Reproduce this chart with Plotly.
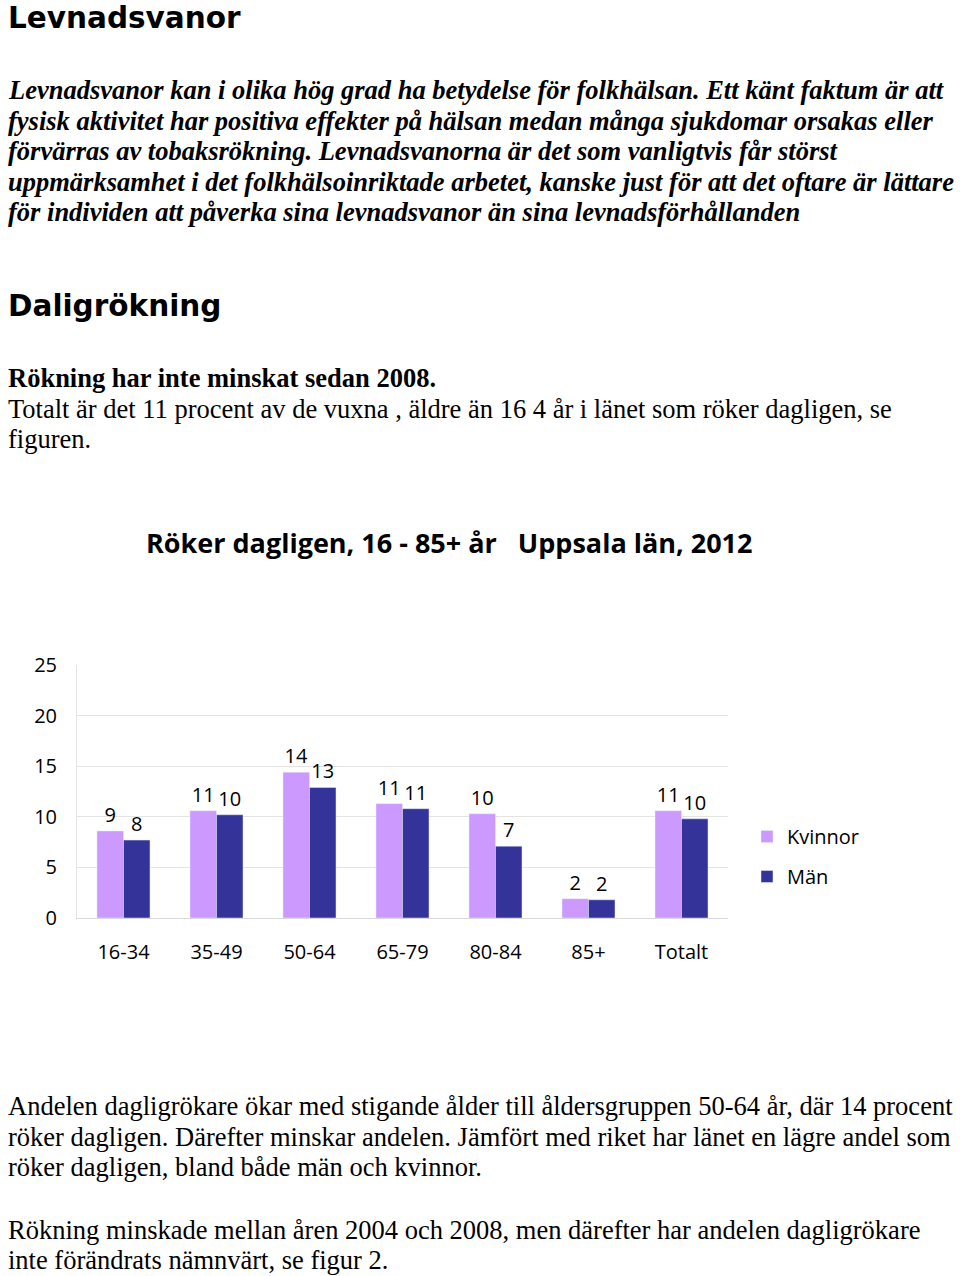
import plotly.graph_objects as go

categories = ["16-34", "35-49", "50-64", "65-79", "80-84", "85+", "Totalt"]
kvinnor = [8.6, 10.6, 14.4, 11.3, 10.3, 1.9, 10.6]
man = [7.7, 10.2, 12.9, 10.8, 7.1, 1.8, 9.8]
y_ticks = [0, 5, 10, 15, 20, 25]

W, H = 960, 1276
def px(x): return x / W
def py(y): return 1 - y / H

CHART_FONT = "Open Sans"
SERIF = "Liberation Serif"
HEAD = "DejaVu Sans"

fig = go.Figure()
fig.add_trace(go.Bar(name="Kvinnor", x=categories, y=kvinnor, marker_color="#CC99FF",
                     texttemplate="%{y:.0f}", textposition="outside",
                     textfont=dict(family=CHART_FONT, size=20, color="#000000"),
                     legendgroup="k", cliponaxis=False))
fig.add_trace(go.Bar(name="Män", x=categories, y=man, marker_color="#333399",
                     texttemplate="%{y:.0f}", textposition="outside",
                     textfont=dict(family=CHART_FONT, size=20, color="#000000"),
                     legendgroup="m", cliponaxis=False))

fig.update_layout(
    width=W, height=H,
    margin=dict(l=0, r=0, t=0, b=0, pad=0, autoexpand=False),
    paper_bgcolor="white", plot_bgcolor="white",
    barmode="group", bargap=0.43, bargroupgap=0,
    xaxis=dict(domain=[px(77), px(728)], tickfont=dict(family=CHART_FONT, size=20, color="#000"),
               showline=True, linecolor="#d9d9d9", linewidth=1, ticks="", ticklabelstandoff=16),
    yaxis=dict(domain=[py(918), py(665)], range=[0, 25], tickvals=y_ticks,
               tickfont=dict(family=CHART_FONT, size=20, color="#000"),
               showgrid=True, gridcolor="#e4e4e4", gridwidth=1,
               showline=True, linecolor="#e4e4e4", zeroline=False, ticks="", ticklabelstandoff=15),
    legend=dict(x=px(747), y=py(817), xanchor="left", yanchor="top",
                font=dict(family=CHART_FONT, size=20, color="#000"),
                traceorder="grouped", tracegroupgap=11, bgcolor="rgba(0,0,0,0)"),
    showlegend=True,
)

def lines(texts, x, first_baseline, size, family, step=30.7, off=0.3375):
    for i, t in enumerate(texts):
        y = first_baseline + i * step - off * size
        fig.add_annotation(text=t, x=px(x), y=py(y), xref="paper", yref="paper",
                           xanchor="left", yanchor="middle", showarrow=False, align="left",
                           font=dict(family=family, size=size, color="#000"))

lines(["<b>Levnadsvanor</b>"], 6, 28, 29.5, HEAD, off=0.346)
lines(["<b><i>Levnadsvanor kan i olika hög grad ha betydelse för folkhälsan. Ett känt faktum är att</i></b>",
       "<b><i>fysisk aktivitet har positiva effekter på hälsan medan många sjukdomar orsakas eller</i></b>",
       "<b><i>förvärras av tobaksrökning. Levnadsvanorna är det som vanligtvis får störst</i></b>",
       "<b><i>uppmärksamhet i det folkhälsoinriktade arbetet, kanske just för att det oftare är lättare</i></b>",
       "<b><i>för individen att påverka sina levnadsvanor än sina levnadsförhållanden</i></b>"],
      6, 99, 26.5, SERIF, step=30.5)
lines(["<b>Daligrökning</b>"], 6, 316, 29.5, HEAD, off=0.346)
lines(["<b>Rökning har inte minskat sedan 2008.</b>",
       "Totalt är det 11 procent av de vuxna , äldre än 16 4 år i länet som röker dagligen, se",
       "figuren."], 6, 387, 26.5, SERIF)
fig.add_annotation(text="<b>Röker dagligen, 16 - 85+ år\u00a0\u00a0\u00a0Uppsala län, 2012</b>",
                   x=px(449), y=py(553.3 - 0.388 * 27), xref="paper", yref="paper",
                   xanchor="center", yanchor="middle", showarrow=False,
                   font=dict(family=CHART_FONT, size=27, color="#000"))
lines(["Andelen dagligrökare ökar med stigande ålder till åldersgruppen 50-64 år, där 14 procent",
       "röker dagligen. Därefter minskar andelen. Jämfört med riket har länet en lägre andel som",
       "röker dagligen, bland både män och kvinnor."], 6, 1115, 26.5, SERIF)
lines(["Rökning minskade mellan åren 2004 och 2008, men därefter har andelen dagligrökare",
       "inte förändrats nämnvärt, se figur 2."], 6, 1238.5, 26.5, SERIF)

fig.write_html("out.html", config={"displayModeBar": False},
               post_script="document.body.style.margin='0';document.documentElement.style.overflow='hidden';")
